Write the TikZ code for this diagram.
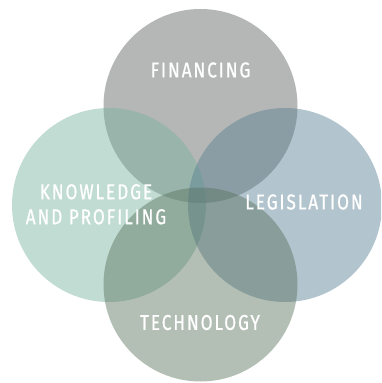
\documentclass[tikz,border=0pt]{standalone}
\usepackage{fontspec}
\newfontfamily\vennfont{Fira Sans}[FakeStretch=0.8,LetterSpace=9,FakeBold=0.8]

\definecolor{finGray}{RGB}{91,97,95}
\definecolor{knowGreen}{RGB}{119,179,159}
\definecolor{legBlue}{RGB}{86,126,146}
\definecolor{techOlive}{RGB}{88,113,93}

\begin{document}
\begin{tikzpicture}[x=1pt, y=-1pt,
    area/.style={circle, inner sep=0pt, minimum size=194pt, fill opacity=0.45},
    areatext/.style={text=white, align=center, inner sep=0pt,
        font=\vennfont\fontsize{21.5}{25}\selectfont}]
        \path[use as bounding box, fill=white] (0,0) rectangle (381,383);
        \clip (0,0) rectangle (381,383);

        % the four areas
        \node[area, fill=finGray] (fin) at (200.5,106) {};
        \node[area, fill=knowGreen] (know) at (109,205) {};
        \node[area, fill=legBlue] (leg) at (285,205) {};
        \node[area, fill=techOlive] (tech) at (200.5,284.5) {};

        % labels
        \node[areatext] (fintext) at (200.5,70) {FINANCING};
        \node[areatext] (knowtext) at (96,204.3) {KNOWLEDGE\\AND PROFILING};
        \node[areatext] (legtext) at (304,202) {LEGISLATION};
        \node[areatext] (techtext) at (200,322.5) {TECHNOLOGY};
    \end{tikzpicture}
\end{document}
